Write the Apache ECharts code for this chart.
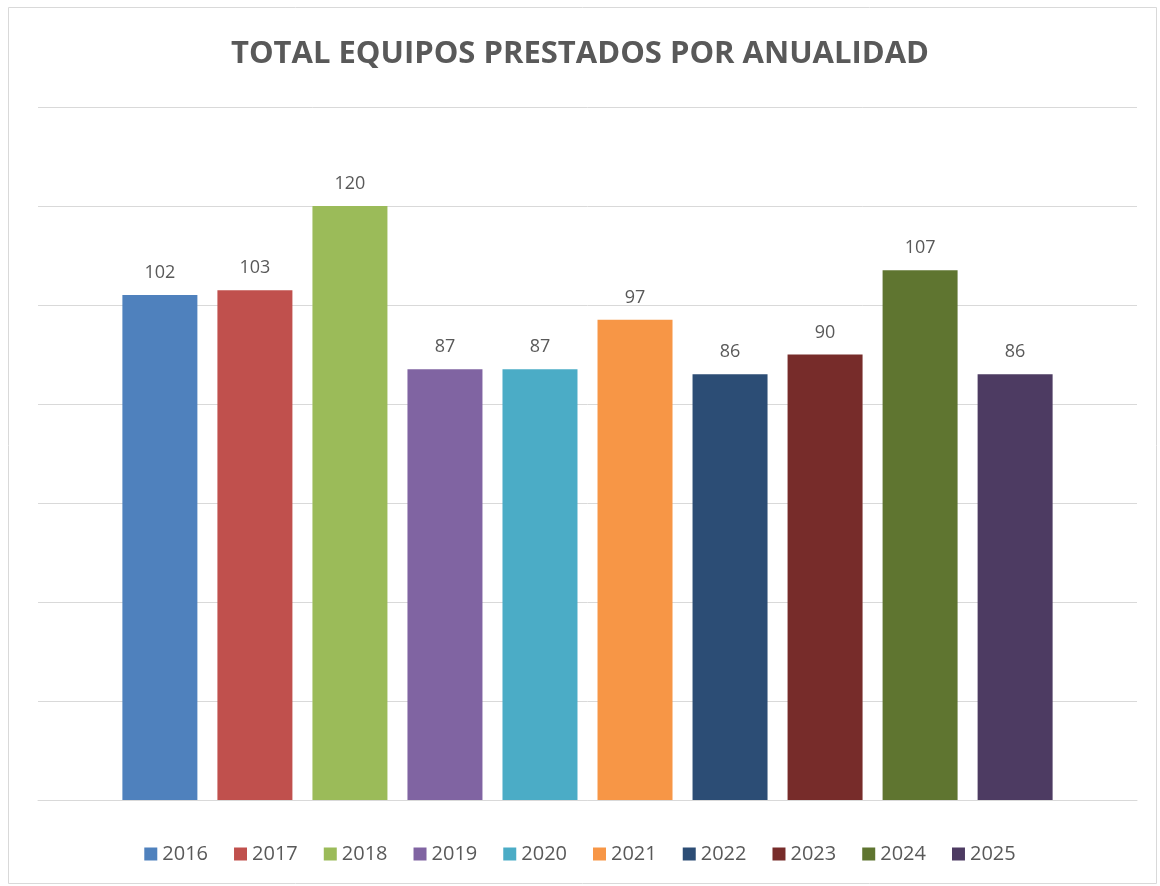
<!DOCTYPE html>
<html>
<head>
    <meta charset="utf-8">
    <title>ECharts</title>
    <script type="text/javascript" src="https://cdn.jsdelivr.net/npm/echarts@6/dist/echarts.min.js"></script>
    <style>
        html, body { margin: 0; padding: 0; background: #fff; }
    </style>
</head>
<body>
<div id="main" style="width: 1160px;height:886px;"></div>
<script type="text/javascript">
    // años y totales
    var years = ['2016', '2017', '2018', '2019', '2020', '2021', '2022', '2023', '2024', '2025'];
    var totals = [102, 103, 120, 87, 87, 97, 86, 90, 107, 86];
    var colors = ['#4F81BD', '#C0504D', '#9BBB59', '#8064A2', '#4BACC6', '#F79646', '#2C4D75', '#772C2A', '#5F7530', '#4D3B62'];

    var myChart = echarts.init(document.getElementById('main'));

    var series = [];
    for (var i = 0; i < years.length; i++) {
        series.push({
            name: years[i],
            type: 'bar',
            barWidth: 75,
            barGap: '26.7%',
            itemStyle: { color: colors[i] },
            label: {
                show: true,
                position: 'top',
                distance: 13,
                color: '#595959',
                fontSize: 18,
                fontFamily: 'Open Sans'
            },
            data: [totals[i]]
        });
    }

    var option = {
        animation: false,
        title: {
            text: 'TOTAL EQUIPOS PRESTADOS POR ANUALIDAD',
            left: 'center',
            top: 34,
            textStyle: {
                color: '#595959',
                fontSize: 31,
                fontWeight: 'bold',
                fontFamily: 'Open Sans'
            }
        },
        legend: {
            data: years,
            top: 839,
            left: 'center',
            itemWidth: 13,
            itemHeight: 13,
            itemGap: 26,
            icon: 'rect',
            textStyle: { color: '#595959', fontSize: 20, fontFamily: 'Open Sans' }
        },
        grid: {
            left: 38,
            right: 23,
            top: 107,
            bottom: 86
        },
        xAxis: {
            type: 'category',
            data: [''],
            axisTick: { show: false },
            axisLabel: { show: false },
            axisLine: { lineStyle: { color: '#d9d9d9' } }
        },
        yAxis: {
            type: 'value',
            min: 0,
            max: 140,
            interval: 20,
            axisLabel: { show: false },
            axisLine: { show: false },
            axisTick: { show: false },
            splitLine: { lineStyle: { color: '#d9d9d9' } }
        },
        graphic: [{
            type: 'rect',
            shape: { x: 8.5, y: 7.5, width: 1148, height: 876 },
            style: { fill: 'none', stroke: '#d9d9d9', lineWidth: 1 },
            silent: true
        }],
        series: series
    };
    myChart.setOption(option);
</script>
</body>
</html>
